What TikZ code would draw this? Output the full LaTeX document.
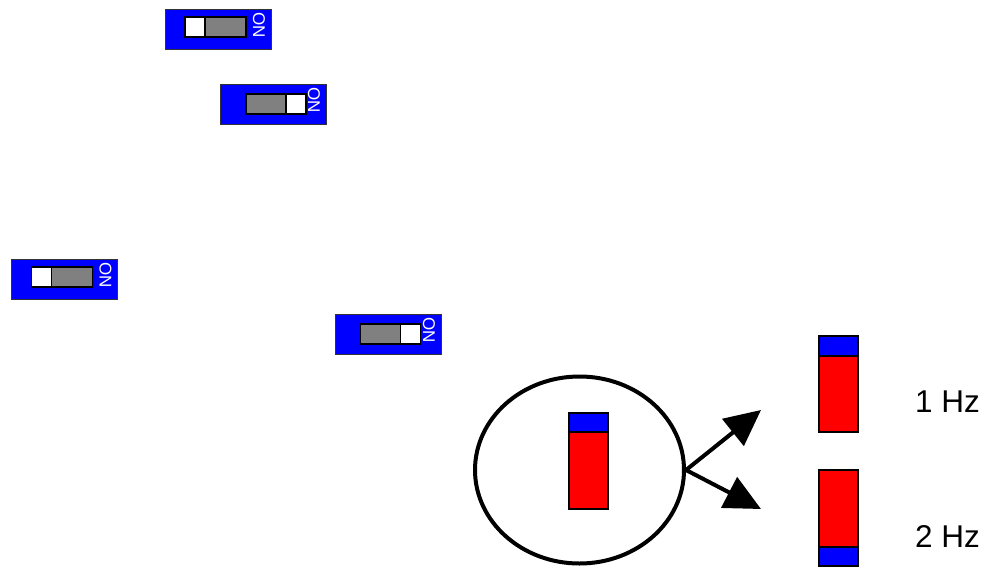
\documentclass[tikz,border=0pt]{standalone}
\usepackage{fontspec}
\setmainfont{Liberation Sans}
\usetikzlibrary{shapes.geometric,arrows.meta}
\definecolor{pblue}{RGB}{0,0,255}
\definecolor{pred}{RGB}{255,0,0}
\definecolor{pgrey}{RGB}{128,128,128}
\tikzset{
  swbox/.style={draw=black!80, line width=1pt, fill=pblue, minimum width=106pt, minimum height=40pt, inner sep=0pt},
  slotgrey/.style={draw=black, line width=1.2pt, fill=pgrey, minimum width=60pt, minimum height=20pt, inner sep=0pt},
  slotwhite/.style={draw=black, line width=1.2pt, fill=white, minimum width=20pt, minimum height=20pt, inner sep=0pt},
  ontext/.style={text=white, font=\fontsize{17}{17}\selectfont, rotate=-90, inner sep=0pt},
  redpart/.style={draw=black, line width=1.5pt, fill=pred, inner sep=0pt, minimum width=39pt},
  bluepart/.style={draw=black, line width=1.5pt, fill=pblue, inner sep=0pt, minimum width=39pt},
  hzlabel/.style={font=\fontsize{31.5}{31.5}\selectfont, anchor=base west, inner sep=0pt},
  bigarrow/.style={line width=4pt, -{Triangle[length=36pt,width=34pt]}}
}
\begin{document}
\begin{tikzpicture}[x=1pt,y=-1pt]
\useasboundingbox (0,0) rectangle (994,568);
% switch 1 (off: white left)
\node[swbox] (sw1) at (218,29) {};
\node[slotgrey, minimum width=61pt] (sl1) at (215.5,27) {};
\node[slotwhite] (wh1) at (195,27) {};
\node[ontext] (on1) at (259,25) {ON};
% switch 2 (on: white right)
\node[swbox] (sw2) at (273,104) {};
\node[slotgrey] (sl2) at (276,104) {};
\node[slotwhite] (wh2) at (296,104) {};
\node[ontext] (on2) at (314,100) {ON};
% switch 3 (off)
\node[swbox] (sw3) at (64.5,279) {};
\node[slotgrey, minimum width=61pt] (sl3) at (62,277) {};
\node[slotwhite] (wh3) at (41.5,277) {};
\node[ontext] (on3) at (105.5,275) {ON};
% switch 4 (on)
\node[swbox] (sw4) at (388,334.5) {};
\node[slotgrey] (sl4) at (390.5,334) {};
\node[slotwhite] (wh4) at (410.5,334) {};
\node[ontext] (on4) at (429,330.5) {ON};
% circle with LED
\node[draw, ellipse, line width=4pt, minimum width=209pt, minimum height=187pt, inner sep=0pt] (circ) at (579.5,470) {};
\node[bluepart, minimum height=19pt] (lb0) at (588.5,422.5) {};
\node[redpart, minimum height=77pt] (lr0) at (588.5,470.5) {};
% right LEDs
\node[bluepart, minimum height=20pt] (lb1) at (838.5,346) {};
\node[redpart, minimum height=76pt] (lr1) at (838.5,394) {};
\node[redpart, minimum height=77pt] (lr2) at (838.5,508.5) {};
\node[bluepart, minimum height=19pt] (lb2) at (838.5,556.5) {};
% labels
\node[hzlabel] (hz1) at (915,412) {1 Hz};
\node[hzlabel] (hz2) at (915,547) {2 Hz};
% arrows
\coordinate (t1) at (761,410);
\coordinate (t2) at (761,509);
\draw[bigarrow] (circ.east) -- (t1);
\draw[bigarrow] (circ.east) -- (t2);
\end{tikzpicture}
\end{document}
